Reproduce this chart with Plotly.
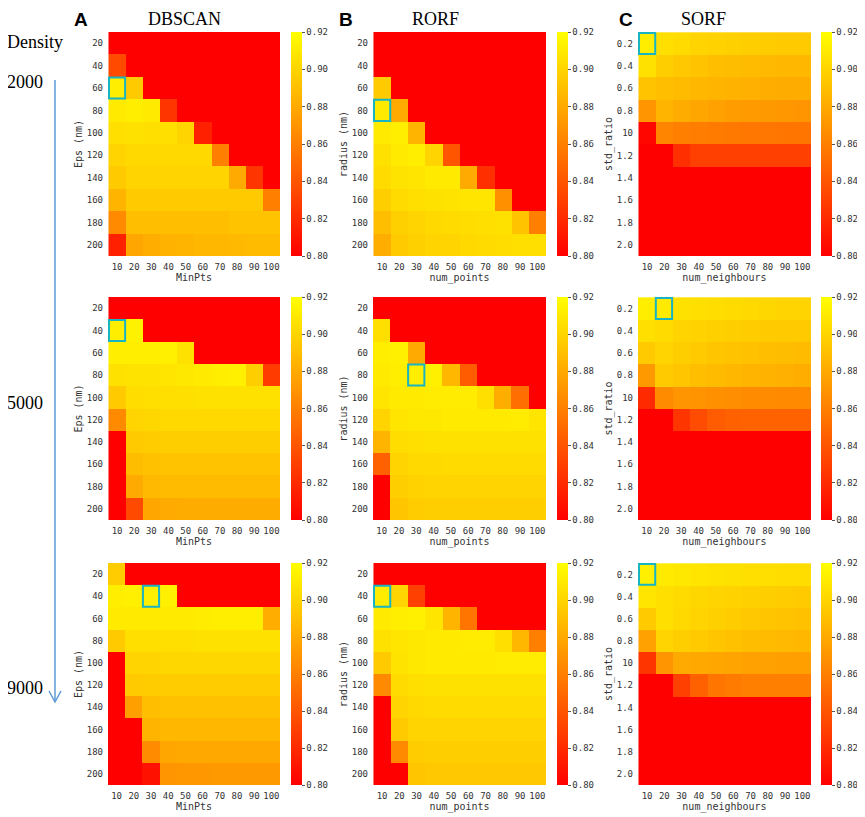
import plotly.graph_objects as go

# grid labels
eps_labels = ["20", "40", "60", "80", "100", "120", "140", "160", "180", "200"]
std_labels = ["0.2", "0.4", "0.6", "0.8", "10", "1.2", "1.4", "1.6", "1.8", "2.0"]
pts_labels = ["10", "20", "30", "40", "50", "60", "70", "80", "90", "100"]

densities = ["2000", "5000", "9000"]

# F-score grids, rows = y labels (top to bottom), cols = x labels
dbscan_2000 = [
    [0.78, 0.78, 0.78, 0.78, 0.78, 0.78, 0.78, 0.78, 0.78, 0.78],
    [0.835, 0.78, 0.78, 0.78, 0.78, 0.78, 0.78, 0.78, 0.78, 0.78],
    [0.912, 0.895, 0.78, 0.78, 0.78, 0.78, 0.78, 0.78, 0.78, 0.78],
    [0.91, 0.912, 0.91, 0.825, 0.78, 0.78, 0.78, 0.78, 0.78, 0.78],
    [0.905, 0.906, 0.905, 0.905, 0.9, 0.815, 0.78, 0.78, 0.78, 0.78],
    [0.9, 0.902, 0.902, 0.902, 0.902, 0.902, 0.86, 0.78, 0.78, 0.78],
    [0.895, 0.9, 0.9, 0.9, 0.9, 0.9, 0.9, 0.88, 0.825, 0.78],
    [0.885, 0.895, 0.895, 0.895, 0.895, 0.895, 0.895, 0.895, 0.895, 0.86],
    [0.865, 0.89, 0.89, 0.89, 0.89, 0.89, 0.89, 0.892, 0.892, 0.892],
    [0.815, 0.878, 0.882, 0.884, 0.885, 0.886, 0.886, 0.887, 0.888, 0.888],
]
rorf_2000 = [
    [0.78, 0.78, 0.78, 0.78, 0.78, 0.78, 0.78, 0.78, 0.78, 0.78],
    [0.78, 0.78, 0.78, 0.78, 0.78, 0.78, 0.78, 0.78, 0.78, 0.78],
    [0.895, 0.78, 0.78, 0.78, 0.78, 0.78, 0.78, 0.78, 0.78, 0.78],
    [0.91, 0.88, 0.78, 0.78, 0.78, 0.78, 0.78, 0.78, 0.78, 0.78],
    [0.91, 0.912, 0.885, 0.78, 0.78, 0.78, 0.78, 0.78, 0.78, 0.78],
    [0.906, 0.91, 0.912, 0.9, 0.84, 0.78, 0.78, 0.78, 0.78, 0.78],
    [0.903, 0.907, 0.908, 0.91, 0.91, 0.88, 0.822, 0.78, 0.78, 0.78],
    [0.897, 0.903, 0.905, 0.906, 0.907, 0.908, 0.908, 0.868, 0.78, 0.78],
    [0.89, 0.898, 0.9, 0.902, 0.903, 0.904, 0.905, 0.906, 0.892, 0.86],
    [0.882, 0.895, 0.898, 0.9, 0.9, 0.902, 0.903, 0.904, 0.905, 0.905],
]
sorf_2000 = [
    [0.912, 0.905, 0.903, 0.9, 0.899, 0.898, 0.897, 0.896, 0.895, 0.895],
    [0.906, 0.897, 0.894, 0.892, 0.89, 0.889, 0.888, 0.887, 0.886, 0.886],
    [0.892, 0.89, 0.888, 0.886, 0.885, 0.884, 0.883, 0.882, 0.881, 0.881],
    [0.87, 0.885, 0.881, 0.878, 0.876, 0.874, 0.873, 0.872, 0.871, 0.87],
    [0.803, 0.862, 0.86, 0.859, 0.858, 0.857, 0.856, 0.856, 0.855, 0.855],
    [0.8, 0.8, 0.822, 0.83, 0.83, 0.83, 0.83, 0.83, 0.83, 0.83],
    [0.78, 0.78, 0.78, 0.78, 0.78, 0.78, 0.78, 0.78, 0.78, 0.78],
    [0.78, 0.78, 0.78, 0.78, 0.78, 0.78, 0.78, 0.78, 0.78, 0.78],
    [0.78, 0.78, 0.78, 0.78, 0.78, 0.78, 0.78, 0.78, 0.78, 0.78],
    [0.78, 0.78, 0.78, 0.78, 0.78, 0.78, 0.78, 0.78, 0.78, 0.78],
]

dbscan_5000 = [
    [0.78, 0.78, 0.78, 0.78, 0.78, 0.78, 0.78, 0.78, 0.78, 0.78],
    [0.912, 0.914, 0.78, 0.78, 0.78, 0.78, 0.78, 0.78, 0.78, 0.78],
    [0.912, 0.912, 0.912, 0.913, 0.906, 0.78, 0.78, 0.78, 0.78, 0.78],
    [0.906, 0.907, 0.907, 0.908, 0.909, 0.91, 0.912, 0.913, 0.897, 0.828],
    [0.895, 0.904, 0.905, 0.905, 0.905, 0.906, 0.906, 0.906, 0.906, 0.906],
    [0.865, 0.9, 0.901, 0.902, 0.902, 0.902, 0.902, 0.902, 0.902, 0.902],
    [0.79, 0.895, 0.896, 0.897, 0.897, 0.897, 0.897, 0.897, 0.897, 0.897],
    [0.79, 0.889, 0.891, 0.892, 0.892, 0.892, 0.892, 0.892, 0.892, 0.892],
    [0.79, 0.88, 0.887, 0.888, 0.888, 0.888, 0.888, 0.888, 0.888, 0.888],
    [0.79, 0.835, 0.878, 0.88, 0.881, 0.881, 0.881, 0.881, 0.881, 0.881],
]
rorf_5000 = [
    [0.78, 0.78, 0.78, 0.78, 0.78, 0.78, 0.78, 0.78, 0.78, 0.78],
    [0.905, 0.78, 0.78, 0.78, 0.78, 0.78, 0.78, 0.78, 0.78, 0.78],
    [0.912, 0.913, 0.88, 0.78, 0.78, 0.78, 0.78, 0.78, 0.78, 0.78],
    [0.91, 0.912, 0.912, 0.913, 0.886, 0.843, 0.78, 0.78, 0.78, 0.78],
    [0.908, 0.91, 0.91, 0.911, 0.911, 0.911, 0.905, 0.882, 0.852, 0.78],
    [0.9, 0.908, 0.909, 0.909, 0.91, 0.91, 0.91, 0.91, 0.911, 0.908],
    [0.885, 0.904, 0.905, 0.906, 0.906, 0.906, 0.906, 0.906, 0.906, 0.906],
    [0.845, 0.9, 0.902, 0.902, 0.903, 0.903, 0.903, 0.903, 0.903, 0.903],
    [0.79, 0.897, 0.899, 0.9, 0.9, 0.9, 0.9, 0.9, 0.9, 0.9],
    [0.79, 0.893, 0.896, 0.897, 0.897, 0.897, 0.897, 0.897, 0.897, 0.897],
]
sorf_5000 = [
    [0.912, 0.91, 0.906, 0.905, 0.904, 0.903, 0.902, 0.901, 0.9, 0.9],
    [0.905, 0.903, 0.9, 0.899, 0.898, 0.897, 0.896, 0.895, 0.895, 0.895],
    [0.895, 0.9, 0.897, 0.895, 0.893, 0.892, 0.891, 0.89, 0.889, 0.888],
    [0.872, 0.895, 0.893, 0.89, 0.888, 0.886, 0.885, 0.884, 0.883, 0.882],
    [0.82, 0.866, 0.87, 0.869, 0.868, 0.867, 0.866, 0.866, 0.865, 0.865],
    [0.8, 0.8, 0.825, 0.836, 0.843, 0.845, 0.846, 0.846, 0.846, 0.846],
    [0.78, 0.78, 0.78, 0.78, 0.78, 0.78, 0.78, 0.78, 0.78, 0.78],
    [0.78, 0.78, 0.78, 0.78, 0.78, 0.78, 0.78, 0.78, 0.78, 0.78],
    [0.78, 0.78, 0.78, 0.78, 0.78, 0.78, 0.78, 0.78, 0.78, 0.78],
    [0.78, 0.78, 0.78, 0.78, 0.78, 0.78, 0.78, 0.78, 0.78, 0.78],
]

dbscan_9000 = [
    [0.896, 0.78, 0.78, 0.78, 0.78, 0.78, 0.78, 0.78, 0.78, 0.78],
    [0.912, 0.913, 0.913, 0.913, 0.78, 0.78, 0.78, 0.78, 0.78, 0.78],
    [0.91, 0.91, 0.91, 0.91, 0.91, 0.911, 0.912, 0.912, 0.912, 0.882],
    [0.895, 0.905, 0.905, 0.905, 0.905, 0.906, 0.906, 0.906, 0.906, 0.906],
    [0.79, 0.9, 0.9, 0.901, 0.901, 0.901, 0.901, 0.901, 0.901, 0.901],
    [0.79, 0.895, 0.896, 0.896, 0.896, 0.896, 0.896, 0.896, 0.896, 0.896],
    [0.79, 0.875, 0.89, 0.891, 0.891, 0.891, 0.891, 0.891, 0.891, 0.891],
    [0.79, 0.79, 0.885, 0.886, 0.886, 0.886, 0.886, 0.886, 0.886, 0.886],
    [0.79, 0.79, 0.866, 0.878, 0.879, 0.879, 0.879, 0.879, 0.879, 0.879],
    [0.79, 0.79, 0.808, 0.87, 0.871, 0.871, 0.872, 0.872, 0.872, 0.872],
]
rorf_9000 = [
    [0.78, 0.78, 0.78, 0.78, 0.78, 0.78, 0.78, 0.78, 0.78, 0.78],
    [0.911, 0.9, 0.83, 0.78, 0.78, 0.78, 0.78, 0.78, 0.78, 0.78],
    [0.91, 0.912, 0.913, 0.908, 0.885, 0.855, 0.78, 0.78, 0.78, 0.78],
    [0.906, 0.908, 0.909, 0.91, 0.91, 0.911, 0.911, 0.905, 0.886, 0.86],
    [0.895, 0.907, 0.909, 0.91, 0.91, 0.91, 0.91, 0.911, 0.911, 0.911],
    [0.865, 0.903, 0.905, 0.906, 0.906, 0.906, 0.906, 0.906, 0.906, 0.906],
    [0.79, 0.9, 0.902, 0.903, 0.903, 0.903, 0.903, 0.903, 0.903, 0.903],
    [0.79, 0.895, 0.9, 0.9, 0.9, 0.9, 0.9, 0.9, 0.9, 0.9],
    [0.79, 0.865, 0.896, 0.897, 0.897, 0.897, 0.897, 0.897, 0.897, 0.897],
    [0.79, 0.79, 0.893, 0.894, 0.894, 0.894, 0.894, 0.894, 0.894, 0.894],
]
sorf_9000 = [
    [0.913, 0.91, 0.909, 0.908, 0.907, 0.906, 0.905, 0.905, 0.904, 0.904],
    [0.908, 0.905, 0.903, 0.901, 0.9, 0.899, 0.898, 0.897, 0.896, 0.895],
    [0.895, 0.905, 0.902, 0.9, 0.898, 0.896, 0.894, 0.893, 0.892, 0.891],
    [0.876, 0.9, 0.897, 0.895, 0.893, 0.891, 0.889, 0.888, 0.887, 0.886],
    [0.825, 0.87, 0.88, 0.879, 0.878, 0.877, 0.876, 0.876, 0.875, 0.875],
    [0.8, 0.8, 0.83, 0.845, 0.855, 0.858, 0.86, 0.86, 0.86, 0.86],
    [0.78, 0.78, 0.78, 0.78, 0.78, 0.78, 0.78, 0.78, 0.78, 0.78],
    [0.78, 0.78, 0.78, 0.78, 0.78, 0.78, 0.78, 0.78, 0.78, 0.78],
    [0.78, 0.78, 0.78, 0.78, 0.78, 0.78, 0.78, 0.78, 0.78, 0.78],
    [0.78, 0.78, 0.78, 0.78, 0.78, 0.78, 0.78, 0.78, 0.78, 0.78],
]

# best parameter cell per panel (x label, y label)
best_dbscan = [("10", "60"), ("10", "40"), ("30", "40")]
best_rorf = [("10", "80"), ("30", "80"), ("10", "40")]
best_sorf = [("10", "0.2"), ("20", "0.2"), ("10", "0.2")]

methods = [
    ("A", "DBSCAN", "MinPts", "Eps (nm)", eps_labels, [dbscan_2000, dbscan_5000, dbscan_9000], best_dbscan),
    ("B", "RORF", "num_points", "radius (nm)", eps_labels, [rorf_2000, rorf_5000, rorf_9000], best_rorf),
    ("C", "SORF", "num_neighbours", "std_ratio", std_labels, [sorf_2000, sorf_5000, sorf_9000], best_sorf),
]

W, H = 865, 817
OFF = 8  # the page body adds an 8px margin around the figure
col_px = [(108, 280, 291), (373, 546, 557), (638, 811, 821)]  # heatmap left/right, colorbar left
row_px = [(32, 256), (297, 520), (563, 785)]


def px(v):
    return (v - OFF) / W


def py(v):
    return 1 - (v - OFF) / H


tick_font = dict(family="DejaVu Sans Mono", size=9, color="#333333")
title_font = dict(family="DejaVu Sans Mono", size=10, color="#333333")
serif = "Liberation Serif"

fig = go.Figure()
shapes = []
n = 0
for c, (letter, name, xtitle, ytitle, ylabels, grids, best) in enumerate(methods):
    x0, x1, cbx = col_px[c]
    for r in range(3):
        y0, y1 = row_px[r]
        n += 1
        sfx = "" if n == 1 else str(n)
        fig.add_trace(go.Heatmap(
            z=grids[r], x=pts_labels, y=ylabels,
            xaxis="x" + sfx, yaxis="y" + sfx,
            zmin=0.80, zmax=0.92,
            colorscale=[[0, "#ff0000"], [1, "#ffff00"]],
            colorbar=dict(
                x=px(cbx), xanchor="left", xref="paper", xpad=0, ypad=0,
                y=py((y0 + y1) / 2), yanchor="middle",
                len=(y1 - y0) / H, thickness=11, outlinewidth=0,
                tickvals=[0.80, 0.82, 0.84, 0.86, 0.88, 0.90, 0.92],
                tickformat=".2f", ticks="outside", ticklen=3,
                tickcolor="#555555", tickfont=tick_font,
            ),
        ))
        fig.layout["xaxis" + sfx] = dict(
            domain=[px(x0), px(x1)], anchor="y" + sfx, type="category",
            showgrid=False, zeroline=False, tickfont=tick_font, ticks="",
            tickangle=0, automargin=False, ticklabelstandoff=4,
            title=dict(text=xtitle, font=title_font, standoff=2),
        )
        fig.layout["yaxis" + sfx] = dict(
            domain=[py(y1), py(y0)], anchor="x" + sfx, type="category",
            autorange="reversed", showgrid=False, zeroline=False,
            tickfont=tick_font, ticks="", ticklabelstandoff=4, automargin=False,
            title=dict(text=ytitle, font=title_font, standoff=2),
        )
        bx, by = best[r]
        i, j = pts_labels.index(bx), ylabels.index(by)
        shapes.append(dict(
            type="rect", xref="x" + sfx, yref="y" + sfx,
            x0=i - 0.47, x1=i + 0.47, y0=j - 0.47, y1=j + 0.47,
            line=dict(color="#19b4c2", width=2),
        ))

# density arrow
shapes.append(dict(type="line", xref="paper", yref="paper",
                   x0=px(55), x1=px(55), y0=py(80), y1=py(701),
                   line=dict(color="#5b9bd5", width=1.5)))
shapes.append(dict(type="path", xref="paper", yref="paper",
                   path="M %f,%f L %f,%f L %f,%f" % (px(49), py(691), px(55), py(702), px(61), py(691)),
                   line=dict(color="#5b9bd5", width=1.5)))

ann = []
letter_x = [81, 346, 626]
name_x = [184, 435, 703]
for c, m in enumerate(methods):
    ann.append(dict(text="<b>%s</b>" % m[0], x=px(letter_x[c]), y=1.0, yanchor="top",
                    font=dict(family="Liberation Sans", size=19, color="black")))
    ann.append(dict(text=m[1], x=px(name_x[c]), y=1.0, yanchor="top",
                    font=dict(family=serif, size=18, color="black")))
ann.append(dict(text="Density", x=px(35), y=py(42), yanchor="middle",
                font=dict(family=serif, size=18, color="black")))
dens_y = [82, 403, 688]
for d, yy in zip(densities, dens_y):
    ann.append(dict(text=d, x=px(25), y=py(yy), yanchor="middle",
                    font=dict(family=serif, size=18, color="black")))
for a in ann:
    a.update(xref="paper", yref="paper", showarrow=False, xanchor="center", borderpad=0)

fig.update_layout(
    width=W, height=H, margin=dict(l=0, r=0, t=0, b=0),
    paper_bgcolor="white", plot_bgcolor="white",
    shapes=shapes, annotations=ann, showlegend=False,
)

fig.write_html("out.html")
